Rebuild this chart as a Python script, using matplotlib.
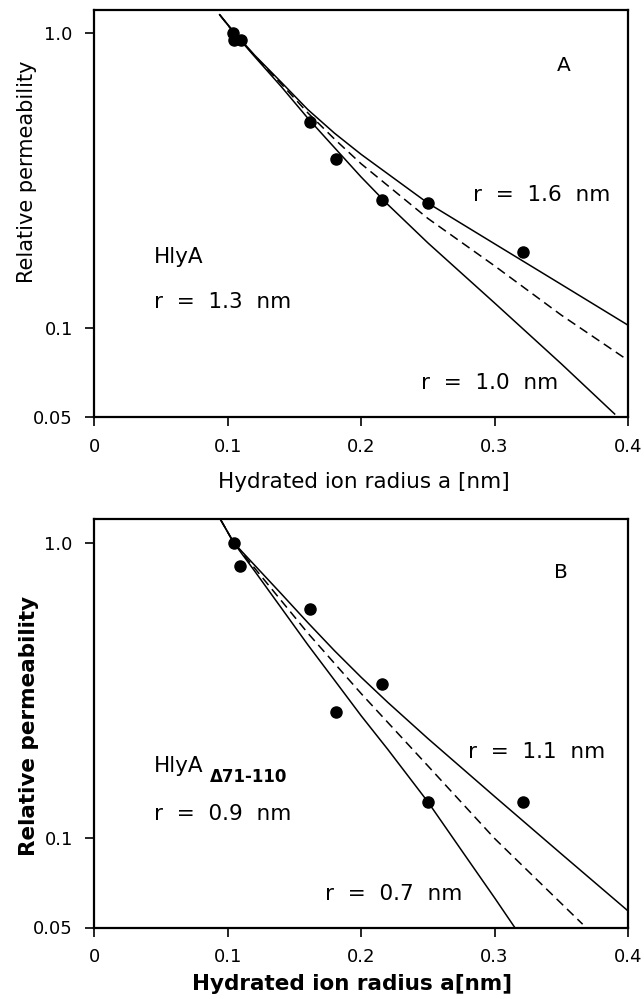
import matplotlib
matplotlib.use('Agg')
import matplotlib.pyplot as plt
from matplotlib.ticker import FixedLocator, NullLocator

# Panel A (HlyA) measured points
ion_radius_A = [0.104, 0.105, 0.110, 0.162, 0.181, 0.216, 0.250, 0.321]
perm_A = [1.0, 0.95, 0.95, 0.50, 0.375, 0.272, 0.267, 0.182]

# Panel A fitted curves
curve_x_A = [0.094, 0.105, 0.12, 0.14, 0.16, 0.18, 0.20, 0.25, 0.30, 0.35, 0.40]
fit_A_16 = [1.156, 1.007, 0.845, 0.684, 0.552, 0.459, 0.389, 0.266, 0.1936, 0.141, 0.1026]
fit_A_13 = [1.156, 1.0, 0.841, 0.675, 0.538, 0.4385, 0.3614, 0.236, 0.163, 0.111, 0.078]
curve_x_A10 = [0.094, 0.105, 0.12, 0.14, 0.16, 0.18, 0.20, 0.22, 0.25, 0.30, 0.35, 0.39]
fit_A_10 = [1.156, 1.0, 0.836, 0.661, 0.516, 0.410, 0.326, 0.263, 0.195, 0.122, 0.0759, 0.0513]

# Panel B (HlyA delta71-110) measured points
ion_radius_B = [0.105, 0.109, 0.162, 0.181, 0.216, 0.250, 0.321]
perm_B = [1.0, 0.833, 0.599, 0.267, 0.333, 0.133, 0.133]

# Panel B fitted curves
curve_x_B11 = [0.0945, 0.1045, 0.12, 0.14, 0.16, 0.18, 0.20, 0.22, 0.25, 0.30, 0.35, 0.40]
fit_B_11 = [1.2, 1.0, 0.841, 0.673, 0.537, 0.4315, 0.3508, 0.2884, 0.2178, 0.1387, 0.0887, 0.0569]
curve_x_B09 = [0.0945, 0.1045, 0.12, 0.14, 0.16, 0.18, 0.20, 0.25, 0.30, 0.35, 0.366]
fit_B_09 = [1.2, 1.0, 0.822, 0.638, 0.495, 0.391, 0.309, 0.176, 0.100, 0.0603, 0.0513]
curve_x_B07 = [0.0945, 0.1045, 0.12, 0.14, 0.16, 0.18, 0.20, 0.22, 0.25, 0.28, 0.30, 0.315]
fit_B_07 = [1.2, 1.0, 0.804, 0.603, 0.452, 0.343, 0.260, 0.200, 0.133, 0.0849, 0.0630, 0.0501]

x_ticks = [0, 0.1, 0.2, 0.3, 0.4]
x_ticklabels = ['0', '0.1', '0.2', '0.3', '0.4']
y_ticks = [0.05, 0.1, 1.0]
y_ticklabels = ['0.05', '0.1', '1.0']

W, H = 644, 999
fig = plt.figure(figsize=(W / 100, H / 100), dpi=100)

def make_axes(top_px, bottom_px):
    left, right = 94.3, 628.0
    return fig.add_axes([left / W, 1 - bottom_px / H, (right - left) / W, (bottom_px - top_px) / H])

def style_axes(ax):
    ax.set_yscale('log')
    ax.set_xlim(0, 0.4)
    ax.set_ylim(0.05, 1.2)
    ax.xaxis.set_major_locator(FixedLocator(x_ticks))
    ax.set_xticklabels(x_ticklabels)
    ax.yaxis.set_major_locator(FixedLocator(y_ticks))
    ax.yaxis.set_minor_locator(NullLocator())
    ax.set_yticklabels(y_ticklabels)
    ax.tick_params(direction='out', length=6.5, width=1.2, labelsize=13,
                   top=False, right=False)
    ax.tick_params(axis='x', pad=8.5)
    ax.tick_params(axis='y', pad=9)
    for sp in ax.spines.values():
        sp.set_linewidth(1.6)

dash = (0, (6, 3.5))
label_size = 15.5

# ---- panel A
axA = make_axes(10, 417.3)
style_axes(axA)
axA.plot(curve_x_A, fit_A_16, color='black', lw=1.1)
axA.plot(curve_x_A, fit_A_13, color='black', lw=1.1, linestyle=dash)
axA.plot(curve_x_A10, fit_A_10, color='black', lw=1.1)
axA.plot(ion_radius_A, perm_A, 'o', color='black', ms=8)
axA.text(0.352, 0.78, 'A', fontsize=14.5, ha='center', va='center')
axA.text(0.284, 0.283, 'r  =  1.6  nm', fontsize=label_size, va='center')
axA.text(0.045, 0.174, 'HlyA', fontsize=label_size, va='center')
axA.text(0.045, 0.123, 'r  =  1.3  nm', fontsize=label_size, va='center')
axA.text(0.245, 0.0651, 'r  =  1.0  nm', fontsize=label_size, va='center')
fig.text(26.7 / W, 1 - 171.7 / H, 'Relative permeability', rotation=90,
         fontsize=15, ha='center', va='center')
fig.text(363.5 / W, 1 - 481.7 / H, 'Hydrated ion radius a [nm]',
         fontsize=15.5, ha='center', va='center')

# ---- panel B
axB = make_axes(519.3, 927.5)
style_axes(axB)
axB.plot(curve_x_B11, fit_B_11, color='black', lw=1.1)
axB.plot(curve_x_B09, fit_B_09, color='black', lw=1.1, linestyle=dash)
axB.plot(curve_x_B07, fit_B_07, color='black', lw=1.1)
axB.plot(ion_radius_B, perm_B, 'o', color='black', ms=8)
axB.text(0.350, 0.793, 'B', fontsize=14.5, ha='center', va='center')
axB.text(0.280, 0.1956, 'r  =  1.1  nm', fontsize=label_size, va='center')
axB.text(0.045, 0.176, 'HlyA', fontsize=label_size, va='center')
axB.text(0.087, 0.161, 'Δ71-110', fontsize=12, fontweight='bold', va='center')
axB.text(0.045, 0.121, 'r  =  0.9  nm', fontsize=label_size, va='center')
axB.text(0.173, 0.0648, 'r  =  0.7  nm', fontsize=label_size, va='center')
fig.text(28.8 / W, 1 - 726.3 / H, 'Relative permeability', rotation=90,
         fontsize=15.5, fontweight='bold', ha='center', va='center')
fig.text(352.5 / W, 1 - 990 / H, 'Hydrated ion radius a[nm]',
         fontsize=15.5, fontweight='bold', ha='center', va='baseline')

fig.savefig('out.png', dpi=100)
